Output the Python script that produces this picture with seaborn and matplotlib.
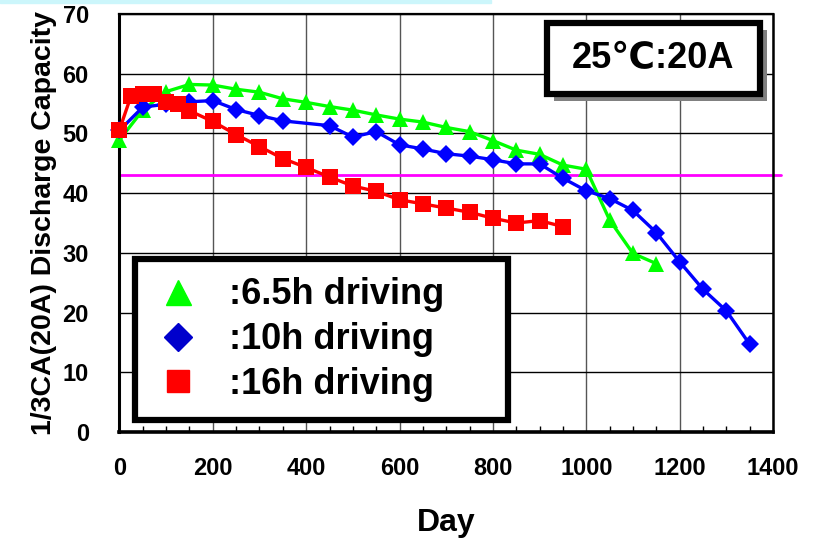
import matplotlib
matplotlib.use("Agg")
import matplotlib.pyplot as plt
import matplotlib.patheffects as pe
from matplotlib.lines import Line2D
from matplotlib.patches import Rectangle
from matplotlib.ticker import MultipleLocator
import seaborn as sns
import pandas as pd

# data
days_65 = [0, 50, 100, 150, 200, 250, 300, 350, 400, 450, 500, 550, 600, 650,
           700, 750, 800, 850, 900, 950, 1000, 1050, 1100, 1150]
cap_65 = [48.9, 53.9, 57.0, 58.2, 58.1, 57.4, 56.9, 55.8, 55.2, 54.5, 53.9, 53.1,
          52.4, 51.9, 51.0, 50.3, 48.8, 47.2, 46.5, 44.7, 44.0, 35.5, 29.9, 28.2]

days_10 = [0, 50, 100, 150, 200, 250, 300, 350, 450, 500, 550, 600, 650, 700,
           750, 800, 850, 900, 950, 1000, 1050, 1100, 1150, 1200, 1250, 1300, 1350]
cap_10 = [50.5, 54.4, 54.9, 55.3, 55.5, 54.0, 53.0, 52.1, 51.3, 49.4, 50.3, 48.1,
          47.4, 46.6, 46.2, 45.6, 44.9, 44.9, 42.5, 40.4, 39.1, 37.1, 33.4, 28.5,
          23.9, 20.3, 14.7]

days_16 = [0, 25, 50, 75, 100, 125, 150, 200, 250, 300, 350, 400, 450, 500, 550,
           600, 650, 700, 750, 800, 850, 900, 950]
cap_16 = [50.6, 56.3, 56.6, 56.6, 55.2, 55.0, 53.8, 52.0, 49.8, 47.8, 45.8, 44.3,
          42.7, 41.2, 40.3, 38.9, 38.2, 37.5, 36.8, 35.8, 35.0, 35.4, 34.4]

limit_cap = 43
labels = [":6.5h driving", ":10h driving", ":16h driving"]
note = "25℃:20A"

sns.set_style("white")
plt.rcParams['font.family'] = ['Liberation Sans', 'DejaVu Sans']
plt.rcParams['font.weight'] = 'bold'
plt.rcParams['text.color'] = 'black'
plt.rcParams['axes.labelcolor'] = 'black'
plt.rcParams['xtick.color'] = 'black'
plt.rcParams['ytick.color'] = 'black'

fig = plt.figure(figsize=(8.18, 5.38), dpi=100)
ax = fig.add_axes([0.146, 0.197, 0.799, 0.777])

# pale strip at very top
fig.patches.append(Rectangle((0, 0.994), 0.6, 0.006, transform=fig.transFigure,
                             color="#ccf6fb", zorder=0))

ax.axhline(limit_cap, xmin=0, xmax=1.012, color="#ff00ff", lw=2, clip_on=False, zorder=2)

df65 = pd.DataFrame({"day": days_65, "cap": cap_65})
df10 = pd.DataFrame({"day": days_10, "cap": cap_10})
df16 = pd.DataFrame({"day": days_16, "cap": cap_16})

common = dict(x="day", y="cap", ax=ax, lw=2.4, markeredgewidth=0, clip_on=False)
sns.lineplot(data=df65, color="#00ff00", marker="^", markersize=12, zorder=3, **common)
sns.lineplot(data=df10, color="#0000ff", marker="D", markersize=9, zorder=4, **common)
sns.lineplot(data=df16, color="#ff0000", marker="s", markersize=11, zorder=5, **common)

ax.set_xlim(0, 1400)
ax.set_ylim(0, 70)
ax.xaxis.set_major_locator(MultipleLocator(200))
ax.xaxis.set_minor_locator(MultipleLocator(50))
ax.yaxis.set_major_locator(MultipleLocator(10))
ax.grid(True, which="major", axis="x", color="#555555", lw=1)
ax.grid(True, which="major", axis="y", color="black", lw=1)
ax.set_axisbelow(True)
ax.tick_params(which="both", direction="in", labelsize=17)
ax.tick_params(which="major", length=7, width=1)
ax.tick_params(which="minor", length=4, width=1, bottom=True)
ax.tick_params(axis="x", pad=18)
ax.tick_params(axis="y", pad=22)
for t in ax.get_xticklabels() + ax.get_yticklabels():
    t.set_fontweight("bold")

for side, w in [("left", 2.2), ("bottom", 2.6), ("top", 1.6), ("right", 1.8)]:
    ax.spines[side].set_visible(True)
    ax.spines[side].set_color("black")
    ax.spines[side].set_linewidth(w)

ax.set_xlabel("Day", fontsize=23, fontweight="bold", labelpad=20)
ax.set_ylabel("1/3CA(20A) Discharge Capacity", fontsize=20.5, fontweight="bold", labelpad=4)

handles = [
    Line2D([], [], color="#00ff00", marker="^", markersize=18, linestyle="none"),
    Line2D([], [], color="#0000cc", marker="D", markersize=14, linestyle="none"),
    Line2D([], [], color="#ff0000", marker="s", markersize=16, linestyle="none"),
]
leg = ax.legend(handles, labels, loc="upper left",
                bbox_to_anchor=(0.024, 0.024, 0.57, 0.389), mode="expand",
                fontsize=26, frameon=True, fancybox=False, edgecolor="black",
                framealpha=1, borderpad=0.5, labelspacing=0.27,
                handlelength=1.4, handletextpad=0.7, borderaxespad=0)
leg.get_frame().set_linewidth(4.5)
for t in leg.get_texts():
    t.set_fontweight("bold")

# condition label box with shadow
box = Rectangle((0.654, 0.808), 0.326, 0.171, transform=ax.transAxes,
                facecolor="white", edgecolor="black", lw=4.5, zorder=6, clip_on=False)
box.set_path_effects([pe.SimplePatchShadow(offset=(5, -5), shadow_rgbFace="#808080", alpha=1),
                      pe.Normal()])
ax.add_patch(box)
ax.text(0.817, 0.893, note, transform=ax.transAxes, ha="center", va="center",
        fontsize=26, fontweight="bold", zorder=7)

fig.savefig("out.png", dpi=100)
